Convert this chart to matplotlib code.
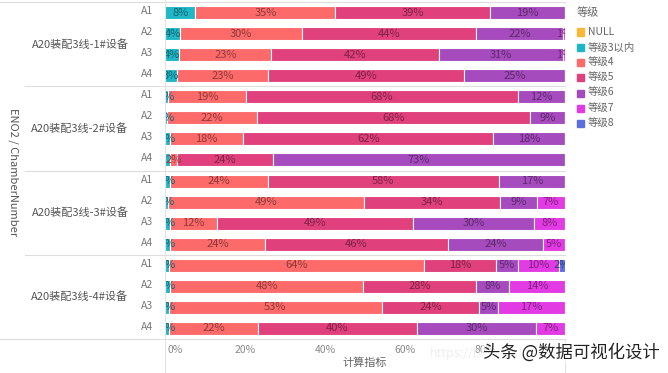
import matplotlib
matplotlib.use("Agg")
import matplotlib.pyplot as plt
from matplotlib.patches import Rectangle
from matplotlib.lines import Line2D
import numpy as np

plt.rcParams['font.family'] = ['Noto Sans CJK SC', 'DejaVu Sans']

groups = ['A20装配3线-1#设备', 'A20装配3线-2#设备', 'A20装配3线-3#设备', 'A20装配3线-4#设备']
rows = ['A1', 'A2', 'A3', 'A4']
levels = ['NULL', '等级3以内', '等级4', '等级5', '等级6', '等级7', '等级8']
colors = ['#F8B83A', '#1FB6C6', '#FD6A6A', '#E0407C', '#A64BBE', '#E23BE3', '#5A6EDF']

lvl_null = [0, 0, 0, 0, 0, 0, 0, 0, 0, 0, 0, 0, 0, 0, 0, 0]
lvl_3 = [7.6, 3.8, 3.6, 3.0, 0.8, 0.6, 1.2, 1.3, 1.3, 0.8, 1.2, 1.2, 1.0, 1.2, 1.0, 1.0]
lvl_4 = [35.0, 30.4, 23.0, 22.8, 19.4, 22.4, 18.4, 1.8, 24.4, 49.0, 11.8, 23.8, 63.8, 48.4, 53.2, 22.2]
lvl_5 = [38.7, 43.6, 41.8, 49.0, 68.0, 68.2, 62.4, 23.8, 57.7, 34.0, 49.0, 45.8, 18.0, 28.2, 24.3, 39.8]
lvl_6 = [18.7, 21.6, 31.0, 25.2, 11.8, 8.8, 18.0, 73.1, 16.6, 9.2, 30.2, 23.8, 5.4, 8.3, 4.7, 29.8]
lvl_7 = [0, 0.6, 0.6, 0, 0, 0, 0, 0, 0, 7.0, 7.8, 5.4, 10.2, 13.9, 16.8, 7.2]
lvl_8 = [0, 0, 0, 0, 0, 0, 0, 0, 0, 0, 0, 0, 1.6, 0, 0, 0]
series = [lvl_null, lvl_3, lvl_4, lvl_5, lvl_6, lvl_7, lvl_8]

xticks = [0, 20, 40, 60, 80]
xtick_labels = ['0%', '20%', '40%', '60%', '80%']

W, H = 668, 373
fig = plt.figure(figsize=(W / 100, H / 100), dpi=100)
fig.patch.set_facecolor('white')

def fx(px):
    return px / W

def fy(py):
    return 1 - py / H

ax_left, ax_right, ax_top, ax_bot = 165, 565, 2, 339
ax = fig.add_axes([fx(ax_left), fy(ax_bot), (ax_right - ax_left) / W, (ax_bot - ax_top) / H])
ax.set_xlim(0, 100)
ax.set_ylim(15.5, -0.5)
ax.axis('off')

n = len(groups) * len(rows)
ypos = np.arange(n)
left = np.zeros(n)
label_info = [[] for _ in range(n)]
for vals, col in zip(series, colors):
    v = np.array(vals, dtype=float)
    ax.barh(ypos, v, left=left, height=0.62, color=col, edgecolor='white', linewidth=0.8)
    for i in range(n):
        if v[i] > 0:
            label_info[i].append((left[i] + v[i] / 2, v[i], col))
    left = left + v

def darker(c, f=0.55):
    r, g, b = matplotlib.colors.to_rgb(c)
    return (r * f, g * f, b * f)

for i in range(n):
    last_c = None
    for cx, v, col in reversed(label_info[i]):
        if last_c is not None and abs(last_c - cx) < 2.2:
            continue
        ax.text(cx, i, f"{v:.0f}%", ha='center', va='center', fontsize=8,
                color=darker(col), clip_on=True)
        last_c = cx

# separators
grp_h = (ax_bot - ax_top) / len(groups)
for g in range(len(groups) + 1):
    yp = ax_top + g * grp_h
    x0 = 0 if g in (0, len(groups)) else 25
    fig.add_artist(Line2D([fx(x0), fx(ax_right)], [fy(yp), fy(yp)], color='#dddddd', lw=0.8))
fig.add_artist(Line2D([fx(ax_left), fx(ax_left)], [fy(0), fy(H)], color='#e3e3e3', lw=0.8))
fig.add_artist(Line2D([fx(ax_right), fx(ax_right)], [fy(ax_bot), fy(H)], color='#e3e3e3', lw=0.8))

# left labels
row_h = grp_h / len(rows)
for g, gname in enumerate(groups):
    yc = ax_top + g * grp_h + grp_h / 2
    fig.text(fx(80), fy(yc), gname, ha='center', va='center', fontsize=8, color='#555555')
    for r, rname in enumerate(rows):
        yr = ax_top + g * grp_h + (r + 0.5) * row_h - 1.5
        fig.text(fx(147), fy(yr), rname, ha='center', va='center', fontsize=7.5, color='#777777')
fig.text(fx(13), fy(172), 'ENO2 / ChamberNumber', rotation=270, ha='center', va='center',
         fontsize=8, color='#555555')

# x tick labels
for t, lab in zip(xticks, xtick_labels):
    xp = ax_left + t * (ax_right - ax_left) / 100
    if t == 0:
        fig.text(fx(xp + 2), fy(350), lab, ha='left', va='center', fontsize=7.5, color='#888888')
    else:
        fig.text(fx(xp), fy(350), lab, ha='center', va='center', fontsize=7.5, color='#888888')
fig.text(fx(365), fy(363), '计算指标', ha='center', va='center', fontsize=8, color='#666666')

# legend
fig.text(fx(577), fy(13), '等级', ha='left', va='center', fontsize=8, color='#666666')
for k, (lab, col) in enumerate(zip(levels, colors)):
    yc = 32 + k * 15.3
    fig.add_artist(Rectangle((fx(577), fy(yc + 3.5)), 7 / W, 7 / H, color=col, transform=fig.transFigure))
    fig.text(fx(588), fy(yc), lab, ha='left', va='center', fontsize=7.5, color='#666666')

# watermark
fig.text(fx(430), fy(353), 'https://blog.csdn.net/', ha='left', va='center', fontsize=9, color='#eeeeee')
fig.text(fx(483), fy(352), '头条 @数据可视化设计', ha='left', va='center', fontsize=12.5, color='#222222',
         bbox=dict(facecolor='white', edgecolor='none', alpha=0.6, pad=0.5))

fig.savefig('out.png', dpi=100)
